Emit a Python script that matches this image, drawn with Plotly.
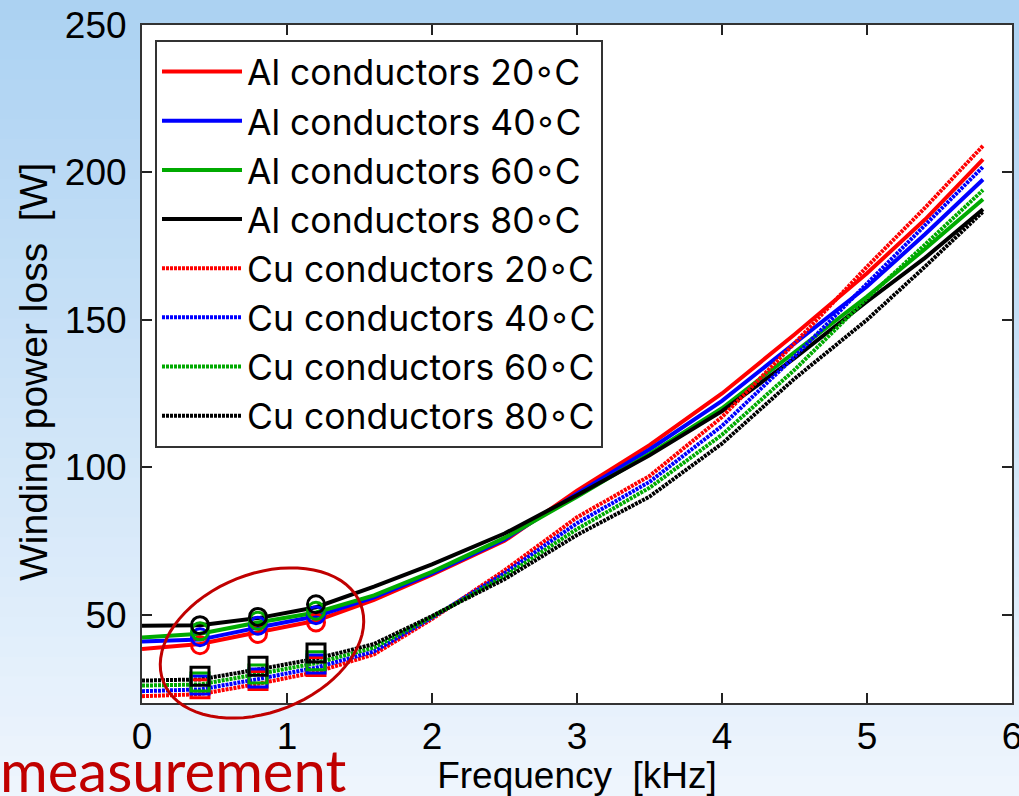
import math
import plotly.graph_objects as go

# ---------------- data ----------------
freq = [0, 0.4, 0.8, 1.2, 1.6, 2.0, 2.5, 3.0, 3.5, 4.0, 4.5, 5.0, 5.4, 5.8]

al_20 = [38.3, 40.0, 44.0, 47.9, 55.0, 63.5, 75.0, 92.0, 107.5, 125.0, 145.0, 165.8, 184.0, 204.4]
al_40 = [40.9, 41.5, 45.6, 49.4, 55.8, 64.0, 75.5, 91.0, 106.0, 122.5, 142.0, 161.3, 179.0, 197.6]
al_60 = [42.2, 43.5, 47.3, 50.7, 56.5, 64.5, 76.0, 90.0, 104.5, 120.0, 139.0, 157.9, 174.0, 190.9]
al_80 = [46.2, 46.4, 48.8, 52.5, 59.5, 67.0, 77.5, 90.5, 104.0, 119.0, 137.0, 156.2, 171.0, 187.5]

cu_20 = [22.3, 23.0, 26.5, 30.5, 36.5, 48.5, 65.0, 83.0, 97.0, 117.0, 142.0, 168.0, 188.0, 209.0]
cu_40 = [24.0, 24.6, 28.1, 32.0, 37.5, 49.0, 64.0, 81.0, 95.0, 114.0, 137.5, 162.4, 182.0, 201.9]
cu_60 = [25.9, 26.3, 29.8, 33.5, 38.8, 49.2, 63.0, 79.0, 93.0, 111.0, 133.0, 157.3, 175.5, 194.0]
cu_80 = [27.6, 28.0, 31.4, 35.0, 40.0, 49.5, 62.0, 77.0, 90.0, 108.0, 130.0, 150.0, 168.0, 186.7]

meas_freq = [0.4, 0.8, 1.2]
al_meas_20 = [39.6, 43.4, 47.3]
al_meas_40 = [42.3, 46.2, 49.8]
al_meas_60 = [44.3, 47.9, 51.3]
al_meas_80 = [46.4, 49.2, 53.5]
cu_meas_20 = [24.8, 27.6, 32.4]
cu_meas_40 = [26.1, 28.5, 33.2]
cu_meas_60 = [27.1, 29.8, 34.3]
cu_meas_80 = [29.1, 32.5, 37.0]

temps = ["20", "40", "60", "80"]
colors = ["#FF0000", "#0000FF", "#00AA00", "#000000"]
x_ticks = [0, 1, 2, 3, 4, 5, 6]
y_ticks = [50, 100, 150, 200, 250]

# ---------------- geometry (pixels) ----------------
W, H = 1019, 796
ML, MR, MT, MB = 142, 7, 25, 93
PW, PH = W - ML - MR, H - MT - MB


def px_x(px):
    return (px - ML) / PW


def px_y(py):
    return 1 - (py - MT) / PH


FONT = "Liberation Sans, Arial, Helvetica, sans-serif"

fig = go.Figure()

al_series = [al_20, al_40, al_60, al_80]
cu_series = [cu_20, cu_40, cu_60, cu_80]
for t, c, ys in zip(temps, colors, al_series):
    fig.add_trace(go.Scatter(x=freq, y=ys, mode="lines",
                             line=dict(color=c, width=4),
                             name=f"Al conductors {t}\u25e6C"))
for t, c, ys in zip(temps, colors, cu_series):
    fig.add_trace(go.Scatter(x=freq, y=ys, mode="lines",
                             line=dict(color=c, width=4, dash="3px,1px"),
                             name=f"Cu conductors {t}\u25e6C"))

for c, ys in zip(colors, [cu_meas_20, cu_meas_40, cu_meas_60, cu_meas_80]):
    fig.add_trace(go.Scatter(x=meas_freq, y=ys, mode="markers", showlegend=False,
                             marker=dict(symbol="square-open", size=18, color=c,
                                         line=dict(color=c, width=3))))
for c, ys in zip(colors, [al_meas_20, al_meas_40, al_meas_60, al_meas_80]):
    fig.add_trace(go.Scatter(x=meas_freq, y=ys, mode="markers", showlegend=False,
                             marker=dict(symbol="circle-open", size=17, color=c,
                                         line=dict(color=c, width=3))))

# ---------------- background gradient ----------------
shapes = []
top_rgb = (172, 210, 242)
bot_rgb = (238, 245, 253)
n = 40
for i in range(n):
    t = i / (n - 1)
    r = round(top_rgb[0] + (bot_rgb[0] - top_rgb[0]) * t)
    g = round(top_rgb[1] + (bot_rgb[1] - top_rgb[1]) * t)
    b = round(top_rgb[2] + (bot_rgb[2] - top_rgb[2]) * t)
    y0p = H * i / n
    y1p = H * (i + 1) / n + 1
    shapes.append(dict(type="rect", xref="paper", yref="paper", layer="below",
                       x0=px_x(0), x1=px_x(W), y0=px_y(y1p), y1=px_y(y0p),
                       line=dict(width=0), fillcolor=f"rgb({r},{g},{b})"))
shapes.append(dict(type="rect", xref="paper", yref="paper", layer="below",
                   x0=0, x1=1, y0=0, y1=1, line=dict(width=0), fillcolor="white"))

# ellipse annotation (pixel geometry -> paper)
cx, cy, a, bb, th = 262, 643, 106, 69, math.radians(21.7)
pts = []
for k in range(73):
    ang = 2 * math.pi * k / 72
    ex = a * math.cos(ang)
    ey = bb * math.sin(ang)
    X = cx + ex * math.cos(th) + ey * math.sin(th)
    Y = cy - (ex * math.sin(th) - ey * math.cos(th))
    pts.append((px_x(X), px_y(Y)))
path = "M " + " L ".join(f"{p[0]:.5f},{p[1]:.5f}" for p in pts) + " Z"
shapes.append(dict(type="path", xref="paper", yref="paper", path=path, layer="above",
                   line=dict(color="#C00000", width=3)))

axis_common = dict(showgrid=False, zeroline=False, showline=True, linecolor="#333333",
                   linewidth=2, mirror="ticks", ticks="inside", ticklen=10,
                   tickwidth=1.5, tickcolor="#222222", automargin=False,
                   ticklabeloverflow="allow",
                   tickfont=dict(family=FONT, size=37, color="black"))

fig.update_layout(
    width=W, height=H, autosize=False,
    margin=dict(l=ML, r=MR, t=MT, b=MB, pad=0),
    paper_bgcolor="#EEF5FD", plot_bgcolor="white",
    xaxis=dict(range=[0, 6], tickvals=x_ticks, ticklabelstandoff=0,
               title=dict(text="Frequency\u00a0\u00a0[kHz]", standoff=4,
                          font=dict(family=FONT, size=37, color="black")),
               **axis_common),
    yaxis=dict(range=[20, 250], tickvals=y_ticks, ticklabelstandoff=6,
               **axis_common),
    legend=dict(x=px_x(155), y=px_y(40), xanchor="left", yanchor="top",
                bgcolor="white", bordercolor="#333333", borderwidth=2,
                font=dict(family="Inter, Liberation Sans, sans-serif", size=35.5,
                          color="black"),
                itemwidth=80, tracegroupgap=0),
    shapes=shapes,
    annotations=[
        dict(text="Winding power loss\u00a0\u00a0[W]", textangle=-90,
             xref="paper", yref="paper", x=px_x(33), y=px_y(372),
             xanchor="center", yanchor="middle", showarrow=False,
             font=dict(family=FONT, size=39, color="black")),
        dict(text="measurement", xref="paper", yref="paper",
             x=px_x(-2), y=px_y(806), xanchor="left", yanchor="bottom",
             showarrow=False,
             font=dict(family="Lato, Open Sans, sans-serif", size=58,
                       color="#C00000")),
    ],
)

fig.write_html("out.html", config={"displayModeBar": False},
               post_script="document.body.style.margin='0px';")
